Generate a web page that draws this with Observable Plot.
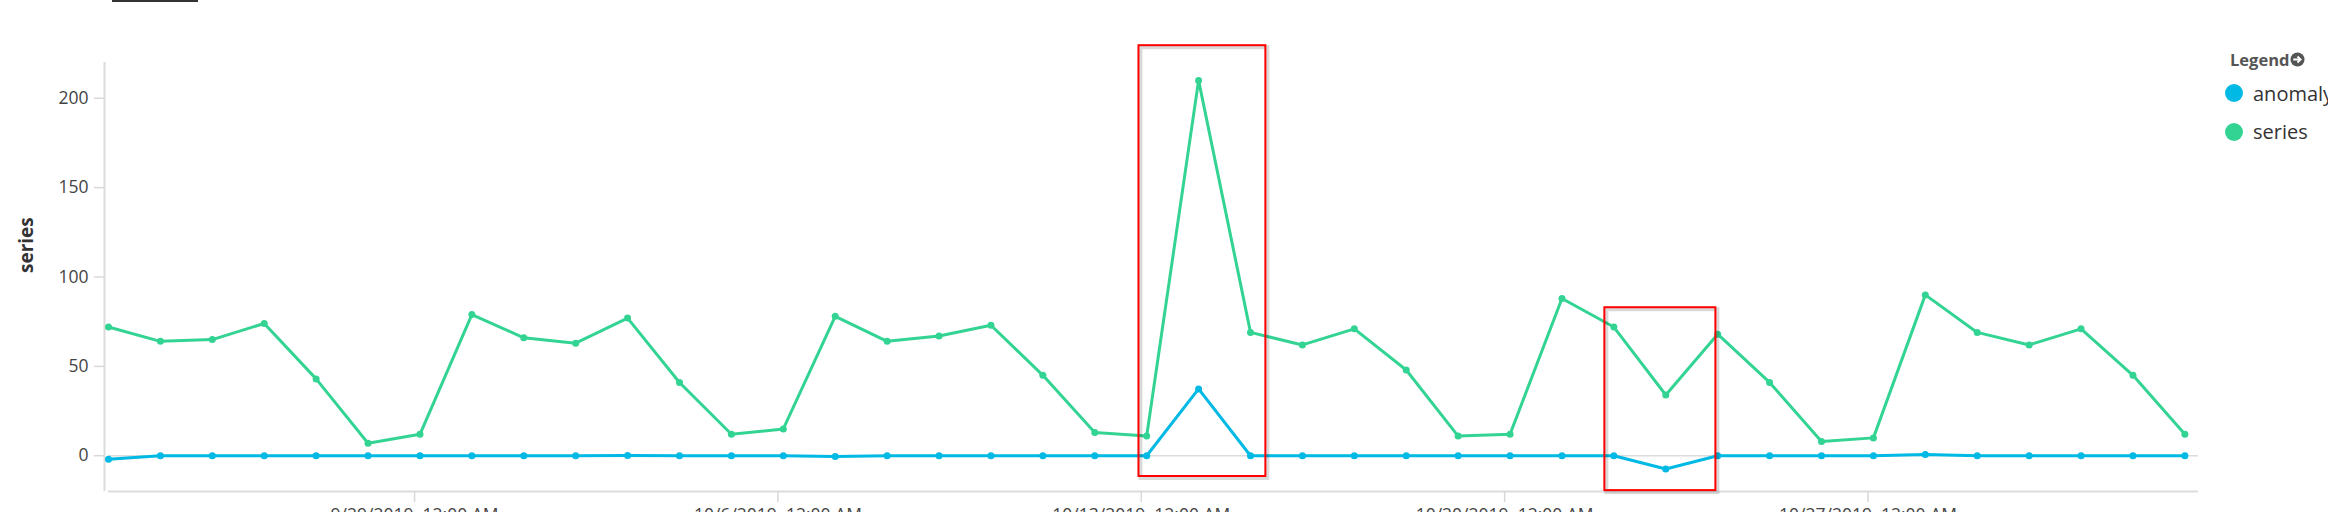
<!DOCTYPE html>
<html>
<head>
<meta charset="utf-8">
<script src="https://cdn.jsdelivr.net/npm/d3@7"></script>
<script src="https://cdn.jsdelivr.net/npm/@observablehq/plot@0.6"></script>
<style>
  html, body { margin: 0; padding: 0; background: #fff; }
  #wrap { position: relative; width: 2328px; height: 512px; overflow: hidden; font-family: 'Open Sans', sans-serif; }
  #tab { position: absolute; left: 112px; top: 0; width: 86px; height: 2px; background: #333; }
  #legend { position: absolute; left: 2225px; top: 44px; color: #333; white-space: nowrap; }
  #legend .title { font-weight: 700; font-size: 16.5px; color: #555; height: 30px; display: flex; align-items: center; margin-left: 5px; }
  #legend .title svg { margin-left: 1px; }
  #legend .item { display: flex; align-items: center; height: 38.5px; font-size: 20px; }
  #legend .sw { width: 18px; height: 18px; border-radius: 50%; margin-right: 10px; }
</style>
</head>
<body>
<div id="wrap">
  <div id="tab"></div>
  <div id="chart"></div>
  <div id="legend"></div>
</div>
<script>
// ---- data ----
const dates = [
  "2019-09-23","2019-09-24","2019-09-25","2019-09-26","2019-09-27","2019-09-28","2019-09-29",
  "2019-09-30","2019-10-01","2019-10-02","2019-10-03","2019-10-04","2019-10-05","2019-10-06",
  "2019-10-07","2019-10-08","2019-10-09","2019-10-10","2019-10-11","2019-10-12","2019-10-13",
  "2019-10-14","2019-10-15","2019-10-16","2019-10-17","2019-10-18","2019-10-19","2019-10-20",
  "2019-10-21","2019-10-22","2019-10-23","2019-10-24","2019-10-25","2019-10-26","2019-10-27",
  "2019-10-28","2019-10-29","2019-10-30","2019-10-31","2019-11-01","2019-11-02"
];
const sampleTime = "T02:30:00Z";
const seriesValues = [72, 64, 65, 74, 43, 7, 12, 79, 66, 63, 77, 41, 12, 15, 78, 64, 67, 73, 45, 13, 11,
  210, 69, 62, 71, 48, 11, 12, 88, 72, 34, 68, 41, 8, 10, 90, 69, 62, 71, 45, 12];
const anomalyValues = [-2, 0, 0, 0, 0, 0, 0, 0, 0, 0, 0.2, 0, 0, 0, -0.4, 0, 0, 0, 0, 0, 0,
  37.4, 0, 0, 0, 0, 0, 0, 0, 0, -7.4, 0, 0, 0, 0, 0.7, 0, 0, 0, 0, 0];
const seriesNames = ["anomaly", "series"];
const seriesColors = ["#00b9e4", "#33d493"];
const xTickDates = ["2019-09-29", "2019-10-06", "2019-10-13", "2019-10-20", "2019-10-27"];
const yTicks = [0, 50, 100, 150, 200];
const yDomain = [-20, 220];
const xDomain = ["2019-09-23T02:30:00Z", "2019-11-02T08:48:00Z"];
const highlightBoxes = [
  {start: "2019-10-12T22:56:00Z", end: "2019-10-15T09:36:00Z", low: -11.6, high: 229.4},
  {start: "2019-10-21T22:20:00Z", end: "2019-10-24T01:40:00Z", low: -19.5, high: 82.8}
];
const yLabel = "series";

// ---- build ----
const parse = s => new Date(s);
const rows = [];
dates.forEach((d, i) => {
  rows.push({date: parse(d + sampleTime), value: anomalyValues[i], name: "anomaly"});
});
dates.forEach((d, i) => {
  rows.push({date: parse(d + sampleTime), value: seriesValues[i], name: "series"});
});
const boxes = highlightBoxes.map(b => ({x1: parse(b.start), x2: parse(b.end), y1: b.low, y2: b.high}));
const fmt = d3.utcFormat("%-m/%-d/%Y, %I:%M %p");

const chart = Plot.plot({
  width: 2328,
  height: 512,
  marginLeft: 108,
  marginRight: 130,
  marginTop: 62,
  marginBottom: 21,
  style: {fontFamily: "'Open Sans', sans-serif", fontSize: "17.5px", background: "#fff", overflow: "visible"},
  x: {type: "utc", domain: xDomain.map(parse)},
  y: {domain: yDomain},
  color: {domain: seriesNames, range: seriesColors},
  marks: [
    Plot.ruleY([0], {stroke: "#dcdcdc", strokeWidth: 1.5}),
    Plot.ruleY([yDomain[0]], {stroke: "#dcdcdc", strokeWidth: 2}),
    Plot.ruleX([parse(xDomain[0])], {dx: -4, stroke: "#dcdcdc", strokeWidth: 2}),
    Plot.axisY({ticks: yTicks, tickSize: 10, tickPadding: 6, dx: -4, stroke: "#d8d8d8", strokeWidth: 1.5, fill: "#444", label: null}),
    Plot.axisX({ticks: xTickDates.map(d => parse(d + "T00:00:00Z")), tickSize: 11, tickPadding: 6, tickFormat: fmt,
      stroke: "#d8d8d8", strokeWidth: 1.5, fill: "#444", label: null}),
    Plot.text([yLabel], {text: d => d, frameAnchor: "left", rotate: -90, dx: -82, dy: -4,
      fontWeight: "bold", fontSize: 19, fill: "#333"}),
    Plot.line(rows.filter(r => r.name === "series"), {x: "date", y: "value", stroke: "name", strokeWidth: 3}),
    Plot.dot(rows.filter(r => r.name === "series"), {x: "date", y: "value", fill: "name", r: 3.5}),
    Plot.line(rows.filter(r => r.name === "anomaly"), {x: "date", y: "value", stroke: "name", strokeWidth: 3}),
    Plot.dot(rows.filter(r => r.name === "anomaly"), {x: "date", y: "value", fill: "name", r: 3.5}),
    Plot.rect(boxes, {x1: "x1", x2: "x2", y1: "y1", y2: "y2", fill: "none", stroke: "#000", strokeOpacity: 0.15, strokeWidth: 4, dx: 2, dy: 2}),
    Plot.rect(boxes, {x1: "x1", x2: "x2", y1: "y1", y2: "y2", fill: "none", stroke: "#f00", strokeWidth: 2})
  ]
});
document.getElementById("chart").appendChild(chart);

// ---- legend ----
const legend = document.getElementById("legend");
legend.innerHTML = `<div class="title">Legend<svg width="15" height="15" viewBox="0 0 16 16">
  <circle cx="8" cy="8" r="7.5" fill="#555"/>
  <path d="M3.5 8 H10.5 M8 4.8 L11.3 8 L8 11.2" stroke="#fff" stroke-width="2" fill="none"/></svg></div>` +
  seriesNames.map((n, i) => `<div class="item"><span class="sw" style="background:${seriesColors[i]}"></span>${n}</div>`).join("");
</script>
</body>
</html>
